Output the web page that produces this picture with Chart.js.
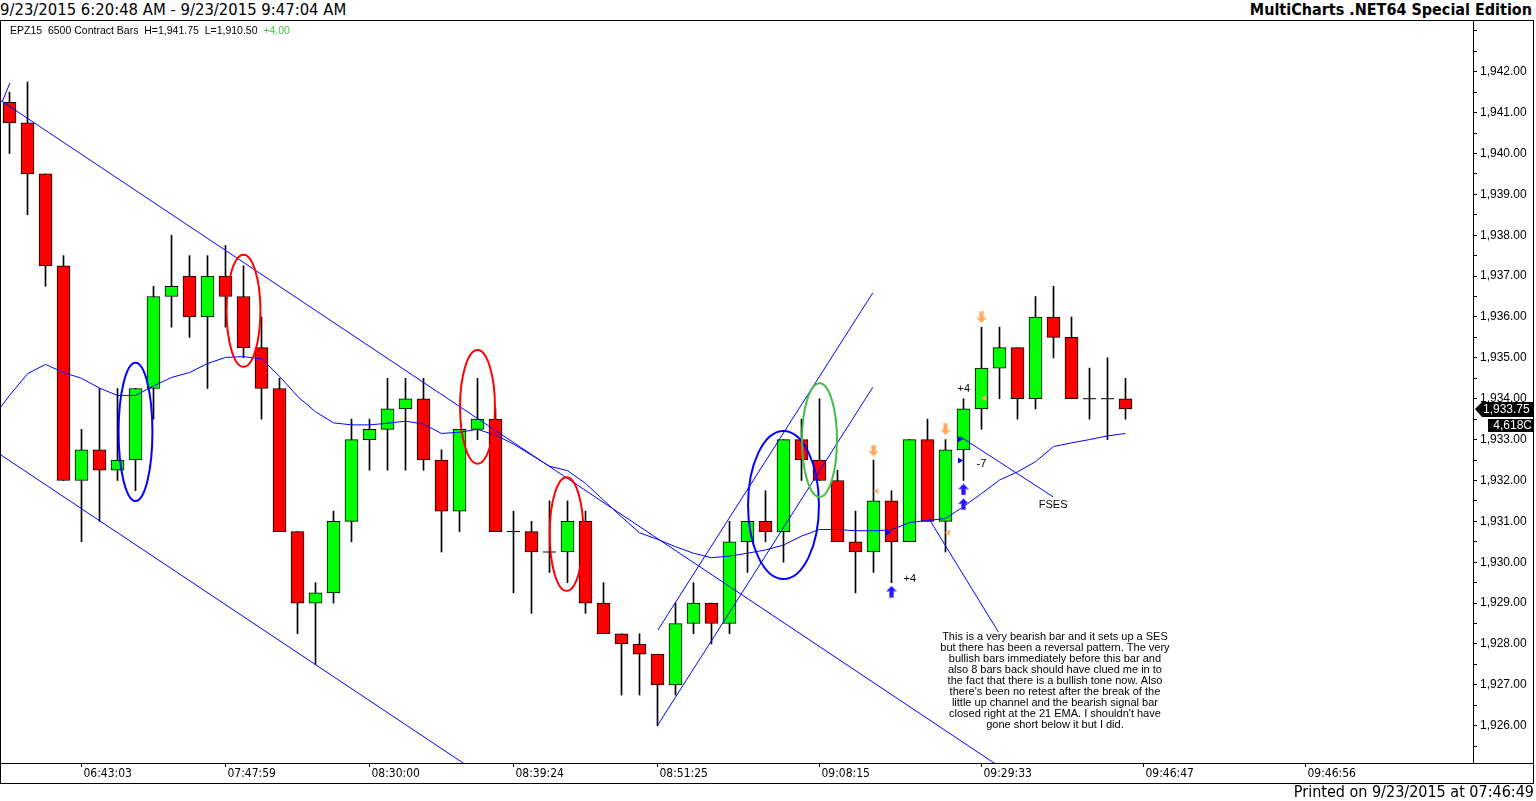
<!DOCTYPE html>
<html>
<head>
<meta charset="utf-8">
<script src="https://cdn.jsdelivr.net/npm/chart.js@4.4.1/dist/chart.umd.min.js"></script>
<style>
  html, body { margin: 0; padding: 0; background: #fff; }
  body { width: 1536px; height: 801px; position: relative; overflow: hidden;
         font-family: "DejaVu Sans Condensed", "Liberation Sans", sans-serif; color: #000; }
  #title { position: absolute; left: 0; top: 0; font-size: 16.5px; line-height: 20px; white-space: pre; }
  #brand { position: absolute; right: 4px; top: 0; font-size: 16px; line-height: 20px; font-weight: bold; }
  #info { position: absolute; left: 10px; top: 24px; font: 10.5px "Liberation Sans", Arial, sans-serif; white-space: pre; }
  #info .up { color: #3ccc3c; }
  #chart { position: absolute; left: 0; top: 20px; }
  #frame { position: absolute; left: 0; top: 20px; width: 1534px; height: 764px;
           border: 1px solid #000; box-sizing: border-box; pointer-events: none; }
  #printed { position: absolute; right: 2px; top: 782px; font-size: 16px; line-height: 19px; }
</style>
</head>
<body>
<div id="title">9/23/2015 6:20:48 AM - 9/23/2015 9:47:04 AM</div>
<div id="brand">MultiCharts .NET64 Special Edition</div>
<canvas id="chart" width="1536" height="763"></canvas>
<div id="frame"></div>
<div id="info">EPZ15  6500 Contract Bars  H=1,941.75  L=1,910.50  <span class="up">+4.00</span></div>
<div id="printed">Printed on 9/23/2015 at 07:46:49</div>

<script>
// 6500 contract bars
const opens  = [1941.25,1940.75,1939.5,1937.25,1932.0,1932.75,1932.25,1932.5,1934.25,1936.5,
                1937.0,1936.0,1937.0,1936.5,1935.25,1934.25,1930.75,1929.0,1929.25,1931.0,
                1933.0,1933.25,1933.75,1934.0,1932.5,1931.25,1933.25,1933.5,1930.75,1930.75,
                1930.25,1930.25,1931.0,1929.0,1928.25,1928.0,1927.75,1927.0,1928.5,1929.0,
                1928.5,1930.5,1931.0,1930.75,1933.0,1932.5,1932.0,1930.5,1930.25,1931.5,
                1930.5,1933.0,1931.0,1932.75,1933.75,1934.75,1935.25,1934.0,1936.0,1935.5,
                1934.0,1934.0,1934.0];
const highs  = [1941.5,1941.75,1939.5,1937.5,1933.25,1934.25,1934.25,1934.25,1936.75,1938.0,
                1937.5,1937.5,1937.75,1937.25,1936.0,1934.5,1930.75,1929.5,1931.25,1933.5,
                1933.5,1934.5,1934.5,1934.5,1932.75,1933.25,1934.5,1933.75,1931.25,1931.0,
                1931.5,1931.5,1931.25,1929.5,1928.25,1928.25,1927.75,1929.0,1929.5,1929.0,
                1931.0,1931.0,1931.75,1933.0,1933.5,1934.0,1932.25,1931.25,1932.5,1931.75,
                1933.0,1933.5,1933.0,1934.0,1935.75,1935.75,1935.25,1936.5,1936.75,1936.0,
                1934.75,1935.0,1934.5];
const lows   = [1940.0,1938.5,1936.75,1932.0,1930.5,1931.0,1932.0,1931.75,1933.5,1935.75,
                1935.5,1934.25,1935.75,1935.0,1933.5,1930.75,1928.25,1927.5,1929.0,1930.5,
                1932.25,1932.25,1932.25,1932.25,1930.25,1930.75,1933.0,1930.75,1929.25,1928.75,
                1929.75,1929.5,1928.75,1928.25,1926.75,1926.75,1926.0,1926.75,1928.25,1928.0,
                1928.25,1929.75,1930.5,1930.0,1932.0,1932.0,1930.5,1929.25,1929.75,1929.5,
                1930.5,1931.0,1930.25,1932.0,1933.25,1934.0,1933.5,1933.75,1935.0,1934.0,
                1933.5,1933.0,1933.5];
const closes = [1940.75,1939.5,1937.25,1932.0,1932.75,1932.25,1932.5,1934.25,1936.5,1936.75,
                1936.0,1937.0,1936.5,1935.25,1934.25,1930.75,1929.0,1929.25,1931.0,1933.0,
                1933.25,1933.75,1934.0,1932.5,1931.25,1933.25,1933.5,1930.75,1930.75,1930.25,
                1930.25,1931.0,1929.0,1928.25,1928.0,1927.75,1927.0,1928.5,1929.0,1928.5,
                1930.5,1931.0,1930.75,1933.0,1932.5,1932.0,1930.5,1930.25,1931.5,1930.5,
                1933.0,1931.0,1932.75,1933.75,1934.75,1935.25,1934.0,1936.0,1935.5,1934.0,
                1934.0,1934.0,1933.75];

// 21 EMA as drawn, first value belongs to the bar before the first one on screen
const emaFirstBar = -1;
const ema21 = [1933.5,
               1934.08,1934.61,1934.84,1934.64,1934.50,1934.26,1934.08,1934.08,1934.31,1934.52,
               1934.64,1934.86,1935.01,1935.03,1934.98,1934.55,1934.06,1933.68,1933.41,1933.36,
               1933.36,1933.40,1933.45,1933.38,1933.15,1933.18,1933.25,1933.11,1932.89,1932.62,
               1932.35,1932.24,1931.93,1931.52,1931.11,1930.72,1930.56,1930.38,1930.22,1930.11,
               1930.15,1930.22,1930.30,1930.42,1930.64,1930.80,1930.80,1930.77,1930.77,1930.79,
               1930.97,1931.02,1931.07,1931.36,1931.68,1932.01,1932.21,1932.46,1932.83,1932.92,
               1933.00,1933.09,1933.15];

const timeLabels   = ["06:43:03","07:47:59","08:30:00","08:39:24","08:51:25","09:08:15","09:29:33","09:46:47","09:46:56"];
const timeTickBars = [4, 12, 20, 28, 36, 45, 54, 63, 72];

// hand drawn lines: [barFrom, priceFrom, barTo, priceTo]
const drawnLines = [
  [-0.5, 1941.30, 55.0, 1925.0],
  [-0.5, 1932.63, 25.5, 1925.0],
  [-0.4, 1941.27, 0.02, 1941.72],
  [36.02, 1928.34, 47.96, 1936.59],
  [36.02, 1926.02, 47.96, 1934.28],
  [52.83, 1933.07, 57.98, 1931.60],
  [51.06, 1931.08, 54.94, 1928.29]
];

// ellipses: [bar, price, halfWidthBars, halfHeightPoints, colour]
const ellipses = [
  [7, 1933.19, 0.94, 1.69, "#0000ff"],
  [13, 1936.15, 0.94, 1.37, "#ff0000"],
  [26, 1933.80, 0.97, 1.39, "#ff0000"],
  [30.95, 1930.69, 0.94, 1.39, "#ff0000"],
  [43, 1931.40, 1.97, 1.81, "#0000ff"],
  [45, 1932.99, 0.97, 1.39, "#3fbf3f"]
];

// strategy marks
const buyArrows  = [[49, 1929.28], [53, 1931.78], [53, 1931.42]];
const sellArrows = [[48, 1932.73], [52, 1933.25], [54, 1935.99]];
const entryMarks = [[48.79, 1930.73], [52.79, 1933.01], [52.79, 1932.49]];
const exitMarks  = [[48.17, 1931.74], [52.15, 1930.73], [54.18, 1934.01]];
const tradeTexts = [[50.02, 1929.58, "+4"], [53.02, 1934.23, "+4"], [54.0, 1932.40, "-7"], [57.98, 1931.39, "FSES"]];

const noteAnchor = [58.08, 1928.16];
const noteLines = [
  "This is a very bearish bar and it sets up a SES",
  "but there has been a reversal pattern. The very",
  "bullish bars immediately before this bar and",
  "also 8 bars back should have clued me in to",
  "the fact that there is a bullish tone now. Also",
  "there's been no retest after the break of the",
  "little up channel and the bearish signal bar",
  "closed right at the 21 EMA. I shouldn't have",
  "gone short below it but I did."
];
const lastVolume = "4,618C";

// axis ranges chosen so bars sit 18px apart and 1 point = ~40.9px
const X_MIN = -0.5278, X_MAX = 81.306;
const Y_MIN = 1925.088, Y_MAX = 1943.265;

const fmt = v => v.toLocaleString("en-US", { minimumFractionDigits: 2, maximumFractionDigits: 2 });
const xy = ([x, y]) => ({ x, y });
const bars = opens.map((o, i) => i);

function arrowCanvas(color, edge, up) {
  const c = document.createElement("canvas");
  c.width = 11; c.height = 12;
  const g = c.getContext("2d");
  g.fillStyle = color;
  g.strokeStyle = edge;
  g.lineWidth = 1;
  g.beginPath();
  if (up) {
    g.moveTo(5.5, 0.5); g.lineTo(10.5, 5.5); g.lineTo(7.5, 5.5); g.lineTo(7.5, 11.5);
    g.lineTo(3.5, 11.5); g.lineTo(3.5, 5.5); g.lineTo(0.5, 5.5);
  } else {
    g.moveTo(5.5, 11.5); g.lineTo(10.5, 6.5); g.lineTo(7.5, 6.5); g.lineTo(7.5, 0.5);
    g.lineTo(3.5, 0.5); g.lineTo(3.5, 6.5); g.lineTo(0.5, 6.5);
  }
  g.closePath();
  g.fill();
  g.stroke();
  return c;
}

// no label padding around the plot, the frame is fixed
const noPadding = s => {
  s.paddingLeft = 0; s.paddingRight = 0; s.paddingTop = 0; s.paddingBottom = 0;
};

const overlays = {
  id: "overlays",
  afterDatasetsDraw(chart) {
    const { ctx, scales: { x, y } } = chart;
    ctx.save();
    ctx.lineWidth = 2;
    ellipses.forEach(([b, p, rb, rp, col]) => {
      const cx = x.getPixelForValue(b), cy = y.getPixelForValue(p);
      const rx = x.getPixelForValue(b + rb) - cx, ry = cy - y.getPixelForValue(p + rp);
      ctx.strokeStyle = col;
      ctx.beginPath();
      ctx.ellipse(cx, cy, rx, ry, 0, 0, Math.PI * 2);
      ctx.stroke();
    });
    ctx.fillStyle = "#000";
    ctx.textAlign = "center";
    ctx.textBaseline = "middle";
    ctx.font = '11px "Liberation Sans", Arial, sans-serif';
    tradeTexts.forEach(([b, p, t]) => ctx.fillText(t, x.getPixelForValue(b), y.getPixelForValue(p)));
    const nx = x.getPixelForValue(noteAnchor[0]);
    const ny = y.getPixelForValue(noteAnchor[1]);
    noteLines.forEach((t, k) => ctx.fillText(t, nx, ny + k * 11));
    ctx.restore();
  },
  afterDraw(chart) {
    const { ctx, chartArea, scales: { y } } = chart;
    ctx.save();
    ctx.strokeStyle = "#000";
    ctx.lineWidth = 1;
    ctx.beginPath();
    ctx.moveTo(0, chartArea.bottom + 0.5);
    ctx.lineTo(1533, chartArea.bottom + 0.5);
    ctx.stroke();
    const last = closes[closes.length - 1];
    const py = Math.round(y.getPixelForValue(last));
    const left = chartArea.right + 2;
    ctx.fillStyle = "#000";
    ctx.beginPath();
    ctx.moveTo(left, py);
    ctx.lineTo(left + 7, py - 7);
    ctx.lineTo(1533, py - 7);
    ctx.lineTo(1533, py + 8);
    ctx.lineTo(left + 7, py + 8);
    ctx.closePath();
    ctx.fill();
    ctx.fillRect(1488, py + 10, 45, 13);
    ctx.fillStyle = "#fff";
    ctx.font = '12px "Liberation Sans", Arial, sans-serif';
    ctx.textBaseline = "middle";
    ctx.textAlign = "left";
    ctx.fillText(fmt(last), left + 8, py + 1);
    ctx.textAlign = "right";
    ctx.fillText(lastVolume, 1532, py + 17);
    ctx.restore();
  }
};

const lineSets = drawnLines.map(([b1, p1, b2, p2]) => ({
  type: "line",
  data: [{ x: b1, y: p1 }, { x: b2, y: p2 }],
  borderColor: "#0000ff",
  borderWidth: 1,
  pointRadius: 0,
  order: 1
}));

const markSet = (pts, style, color, rotation, radius) => ({
  type: "scatter",
  data: pts.map(xy),
  pointStyle: style,
  rotation: rotation,
  pointRadius: radius,
  backgroundColor: color,
  borderColor: color,
  borderWidth: 0,
  order: 0
});

new Chart(document.getElementById("chart"), {
  type: "bar",
  data: {
    datasets: [
      {
        label: "wicks",
        data: bars.map(i => ({ x: i, y: [lows[i], highs[i]] })),
        backgroundColor: "#000",
        barThickness: 1,
        grouped: false,
        order: 4
      },
      {
        label: "bodies",
        data: bars.filter(i => opens[i] !== closes[i]).map(i => ({ x: i, y: [opens[i], closes[i]] })),
        backgroundColor: ctx => {
          const v = ctx.raw && ctx.raw.y;
          return v && v[1] > v[0] ? "#00ff00" : "#ff0000";
        },
        borderColor: "#000",
        borderWidth: 1,
        borderSkipped: false,
        barThickness: 13,
        grouped: false,
        order: 3
      },
      {
        type: "scatter",
        label: "doji",
        data: bars.filter(i => opens[i] === closes[i]).map(i => ({ x: i, y: opens[i] })),
        pointStyle: "line",
        pointRadius: 6.5,
        borderColor: "#000",
        borderWidth: 1,
        order: 3
      },
      {
        type: "line",
        label: "EMA 21",
        data: ema21.map((v, k) => ({ x: emaFirstBar + k, y: v })),
        borderColor: "#0000ff",
        borderWidth: 1,
        pointRadius: 0,
        order: 2
      },
      ...lineSets,
      markSet(buyArrows, arrowCanvas("#1a1aff", "#8a5cff", true), "#1a1aff", 0, 5),
      markSet(sellArrows, arrowCanvas("#ffa860", "#ffc89a", false), "#ffa860", 0, 5),
      markSet(entryMarks, "triangle", "#0000ff", 90, 3.5),
      markSet(exitMarks, "triangle", "#ffb070", -90, 3.5)
    ]
  },
  options: {
    responsive: false,
    devicePixelRatio: 1,
    animation: false,
    layout: { padding: 0, autoPadding: false },
    plugins: { legend: { display: false }, tooltip: { enabled: false } },
    scales: {
      x: {
        type: "linear",
        min: X_MIN,
        max: X_MAX,
        offset: false,
        grid: { drawOnChartArea: false, drawTicks: true, tickLength: 4, color: "#000", offset: false },
        border: { display: true, color: "#000" },
        afterBuildTicks: s => { s.ticks = timeTickBars.map(v => ({ value: v })); },
        afterFit: s => { s.height = 20; noPadding(s); },
        ticks: {
          callback: (v, idx) => timeLabels[idx],
          align: "start",
          labelOffset: 2,
          padding: 0,
          maxRotation: 0,
          autoSkip: false,
          color: "#000",
          font: { family: '"DejaVu Sans Condensed", "Liberation Sans Narrow", "Liberation Sans"', size: 12 }
        }
      },
      y: {
        type: "linear",
        position: "right",
        min: Y_MIN,
        max: Y_MAX,
        beginAtZero: false,
        grid: { drawOnChartArea: false, drawTicks: true, tickLength: 4, color: "#000" },
        border: { display: true, color: "#000" },
        afterBuildTicks: s => {
          const t = [];
          for (let v = 1925.5; v <= 1943; v += 0.5) t.push({ value: v });
          s.ticks = t;
        },
        afterFit: s => { s.width = 63; noPadding(s); },
        ticks: {
          autoSkip: false,
          padding: 3,
          color: "#000",
          callback: v => (Number.isInteger(v) && v <= 1942) ? fmt(v) : "",
          font: { family: '"Liberation Sans", Arial, sans-serif', size: 12 }
        }
      }
    }
  },
  plugins: [overlays]
});
</script>
</body>
</html>
